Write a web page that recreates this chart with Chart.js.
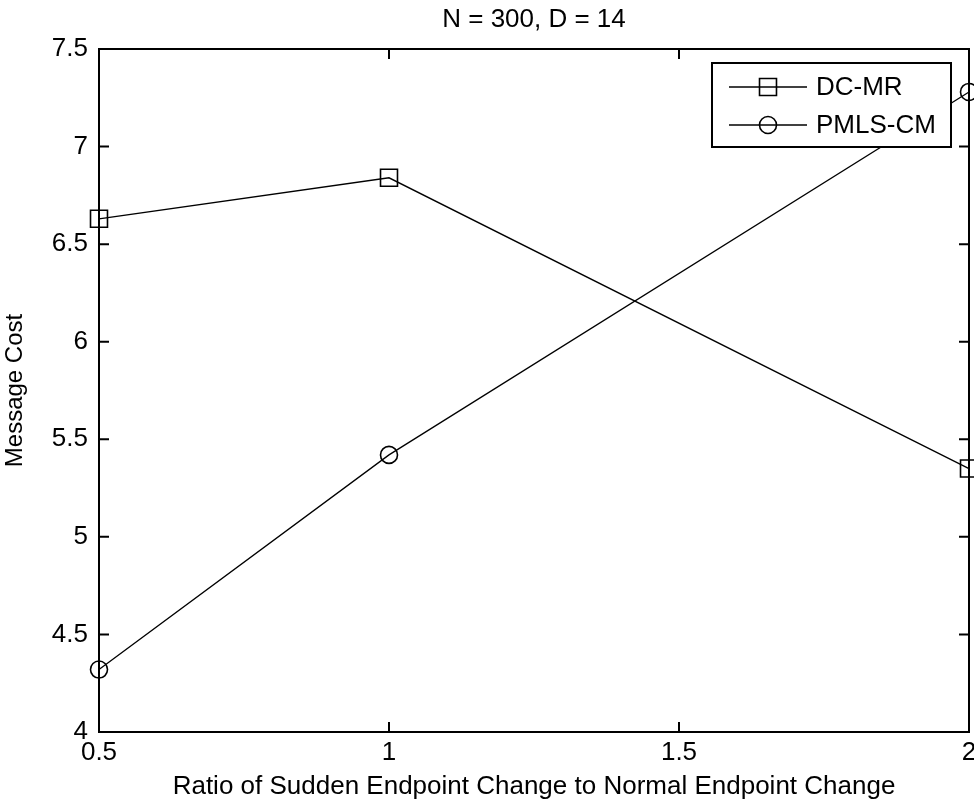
<!DOCTYPE html>
<html>
<head>
<meta charset="utf-8">
<script src="https://cdn.jsdelivr.net/npm/chart.js@4.4.1/dist/chart.umd.min.js"></script>
<style>
  html, body { margin: 0; padding: 0; background: #fff; overflow: hidden; }
  canvas { display: block; }
</style>
</head>
<body>
<canvas id="chartCosto" width="974" height="804"></canvas>
<script>
// === Datos ===
const ratios = [0.5, 1, 2];
const dcMr = [6.63, 6.84, 5.35];
const pmlsCm = [4.32, 5.42, 7.28];
const seriesNames = ["DC-MR", "PMLS-CM"];
const xTicks = [0.5, 1, 1.5, 2];
const yTicks = [4, 4.5, 5, 5.5, 6, 6.5, 7, 7.5];

const fuente = '"Liberation Sans", Arial, sans-serif';
const negro = "#000";

// === Marco de ejes con marcas hacia adentro ===
const marcoEjes = {
  id: "marcoEjes",
  afterDatasetsDraw(chart) {
    const { ctx, chartArea: a, scales: { x, y } } = chart;
    const largo = 10;
    ctx.save();
    ctx.strokeStyle = negro;
    ctx.lineWidth = 2;
    ctx.beginPath();
    x.ticks.forEach(t => {
      const px = x.getPixelForValue(t.value);
      ctx.moveTo(px, a.bottom); ctx.lineTo(px, a.bottom - largo);
      ctx.moveTo(px, a.top); ctx.lineTo(px, a.top + largo);
    });
    y.ticks.forEach(t => {
      const py = y.getPixelForValue(t.value);
      ctx.moveTo(a.left, py); ctx.lineTo(a.left + largo, py);
      ctx.moveTo(a.right, py); ctx.lineTo(a.right - largo, py);
    });
    ctx.stroke();
    ctx.strokeRect(a.left, a.top, a.right - a.left, a.bottom - a.top);
    ctx.restore();
  }
};

// === Leyenda dentro del área ===
const leyenda = {
  id: "leyenda",
  afterDraw(chart) {
    const { ctx, chartArea: a } = chart;
    const caja = { left: a.right - 257, top: a.top + 14, width: 239, height: 84 };
    ctx.save();
    ctx.fillStyle = "#fff";
    ctx.fillRect(caja.left, caja.top, caja.width, caja.height);
    ctx.strokeStyle = negro;
    ctx.lineWidth = 2;
    ctx.strokeRect(caja.left, caja.top, caja.width, caja.height);
    chart.data.datasets.forEach((ds, i) => {
      const cy = caja.top + 24 + i * 38;
      const x0 = caja.left + 17;
      const x1 = caja.left + 95;
      ctx.strokeStyle = negro;
      ctx.lineWidth = ds.borderWidth;
      ctx.beginPath();
      ctx.moveTo(x0, cy); ctx.lineTo(x1, cy);
      ctx.stroke();
      ctx.fillStyle = "rgba(0,0,0,0)";
      ctx.lineWidth = ds.pointBorderWidth;
      Chart.helpers.drawPoint(ctx, {
        pointStyle: ds.pointStyle,
        radius: ds.pointRadius,
        rotation: 0,
        borderWidth: ds.pointBorderWidth
      }, (x0 + x1) / 2, cy);
      ctx.fillStyle = negro;
      ctx.font = "26px " + fuente;
      ctx.textAlign = "left";
      ctx.textBaseline = "middle";
      ctx.fillText(ds.label, x1 + 9, cy + 1);
    });
    ctx.restore();
  }
};

const puntos = vals => ratios.map((r, i) => ({ x: r, y: vals[i] }));

new Chart(document.getElementById("chartCosto"), {
  type: "line",
  data: {
    datasets: [
      {
        label: seriesNames[0],
        data: puntos(dcMr),
        borderColor: negro,
        borderWidth: 1.3,
        pointStyle: "rect",
        pointRadius: 12,
        pointBorderWidth: 1.6,
        pointBorderColor: negro,
        pointBackgroundColor: "rgba(0,0,0,0)",
        tension: 0,
        clip: false
      },
      {
        label: seriesNames[1],
        data: puntos(pmlsCm),
        borderColor: negro,
        borderWidth: 1.3,
        pointStyle: "circle",
        pointRadius: 8.5,
        pointBorderWidth: 1.6,
        pointBorderColor: negro,
        pointBackgroundColor: "rgba(0,0,0,0)",
        tension: 0,
        clip: false
      }
    ]
  },
  options: {
    responsive: false,
    animation: false,
    events: [],
    layout: { padding: 0, autoPadding: false },
    plugins: {
      legend: { display: false },
      tooltip: { enabled: false },
      title: { display: false }
    },
    scales: {
      x: {
        type: "linear",
        min: 0.5,
        max: 2,
        afterBuildTicks: s => { s.ticks = xTicks.map(v => ({ value: v })); },
        afterFit: s => { s.height = 72; s.paddingLeft = 0; s.paddingRight = 5; },
        ticks: {
          callback: v => String(v),
          color: negro,
          font: { family: fuente, size: 26, lineHeight: 1 },
          padding: 8,
          maxRotation: 0,
          autoSkip: false
        },
        grid: { display: false, drawTicks: false },
        border: { display: false },
        title: {
          display: true,
          text: "Ratio of Sudden Endpoint Change to Normal Endpoint Change",
          color: negro,
          font: { family: fuente, size: 26, lineHeight: 1 },
          padding: { top: 0, bottom: 4 }
        }
      },
      // eje superior vacío, solo lleva el título centrado sobre el área
      xTop: {
        type: "linear",
        axis: "x",
        position: "top",
        min: 0.5,
        max: 2,
        afterFit: s => { s.height = 49; s.paddingLeft = 0; s.paddingRight = 0; },
        ticks: { display: false },
        grid: { display: false, drawTicks: false },
        border: { display: false },
        title: {
          display: true,
          text: "N = 300, D = 14",
          color: negro,
          font: { family: fuente, size: 26, lineHeight: 1 },
          padding: { top: 7, bottom: 0 }
        }
      },
      y: {
        type: "linear",
        min: 4,
        max: 7.5,
        afterBuildTicks: s => { s.ticks = yTicks.map(v => ({ value: v })); },
        afterFit: s => { s.width = 99; s.paddingTop = 0; s.paddingBottom = 0; },
        ticks: {
          callback: v => String(v),
          color: negro,
          font: { family: fuente, size: 26, lineHeight: 1 },
          padding: 11,
          autoSkip: false
        },
        grid: { display: false, drawTicks: false },
        border: { display: false },
        title: {
          display: true,
          text: "Message Cost",
          color: negro,
          font: { family: fuente, size: 24, lineHeight: 1 },
          padding: { top: 3, bottom: 0 }
        }
      }
    }
  },
  plugins: [marcoEjes, leyenda]
});
</script>
</body>
</html>
